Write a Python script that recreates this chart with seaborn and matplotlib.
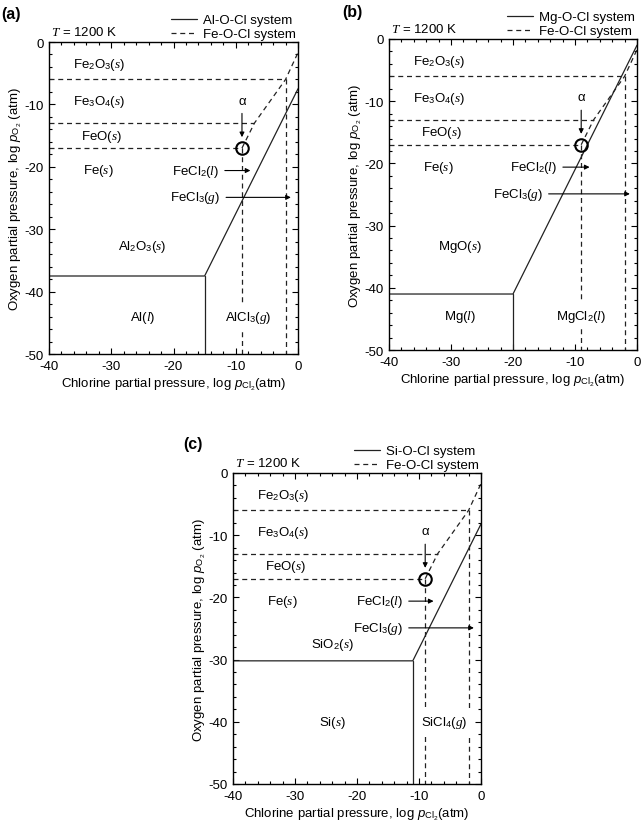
import numpy as np
import pandas as pd
import seaborn as sns
import matplotlib.pyplot as plt
from matplotlib.lines import Line2D
from matplotlib.ticker import MultipleLocator

sns.set_theme(style="ticks", rc={"text.color": "black", "axes.labelcolor": "black",
                                 "xtick.color": "black", "ytick.color": "black",
                                 "axes.edgecolor": "black", "axes.unicode_minus": False})
plt.rcParams['font.family'] = ['Liberation Sans', 'DejaVu Sans']
plt.rcParams['mathtext.fontset'] = 'custom'
plt.rcParams['mathtext.rm'] = 'Liberation Sans'
plt.rcParams['mathtext.it'] = 'Liberation Serif:italic'
plt.rcParams['mathtext.sf'] = 'Liberation Sans:italic'
plt.rcParams['mathtext.bf'] = 'Liberation Sans:bold'

# Fe-O-Cl system (dashed) - same in all three panels
fe_levels = [-6, -13, -17]          # Fe2O3/Fe3O4, Fe3O4/FeO, FeO/Fe
fe_level_ends = [-2, -7, -9]        # log pCl2 where each level meets the chloride boundary
fe_diag_x = [-9, -7, -2, 0]
fe_diag_y = [-17, -13, -6, -1.7]
fe_vert_x = [-9, -2]
fe_vert_top = [-17, -6]
alpha_x, alpha_y = -9, -17

# M-O-Cl systems (solid)
systems = ['Al-O-Cl system', 'Mg-O-Cl system', 'Si-O-Cl system']
metal_level = [-37.5, -41, -30.2]     # oxide / metal boundary
metal_corner_x = [-15, -20, -11]      # metal / chloride boundary
metal_end_y = [-7.5, -1, -8.2]        # oxide / chloride boundary at log pCl2 = 0

fe_names = ['Fe$_2$O$_3$($s$)', 'Fe$_3$O$_4$($s$)', 'FeO($s$)', 'Fe($s$)']
metal_names = [['Al$_2$O$_3$($s$)', 'Al($l$)', 'AlCl$_3$($g$)'],
               ['MgO($s$)', 'Mg($l$)', 'MgCl$_2$($l$)'],
               ['SiO$_2$($s$)', 'Si($s$)', 'SiCl$_4$($g$)']]
tags = ['(a)', '(b)', '(c)']

# label placement
fe_name_pos = [(-32, -3.5), (-32, -9.5), (-31.6, -15), (-32, -20.5)]
metal_name_pos = [[(-25, -32.7), (-25, -44), (-8, -44)],
                  [(-28.5, -33.3), (-28.5, -44.5), (-9, -44.5)],
                  [(-24, -27.5), (-24, -40), (-6, -40)]]
fecl2_right = [-12.7, -12.9, -12.6]
fecl3_right = [-12.5, -15.2, -12.6]

# build boundary segments for each panel
rows = []
for p, sysname in enumerate(systems):
    seg = 0
    for lev, end in zip(fe_levels, fe_level_ends):
        rows += [(p, seg, 'Fe', -40, lev), (p, seg, 'Fe', end, lev)]
        seg += 1
    for xx, yy in zip(fe_diag_x, fe_diag_y):
        rows.append((p, seg, 'Fe', xx, yy))
    seg += 1
    for xx, top in zip(fe_vert_x, fe_vert_top):
        rows += [(p, seg, 'Fe', xx, top), (p, seg, 'Fe', xx, -50)]
        seg += 1
    rows += [(p, seg, 'M', -40, metal_level[p]), (p, seg, 'M', metal_corner_x[p], metal_level[p]),
             (p, seg, 'M', 0, metal_end_y[p])]
    seg += 1
    rows += [(p, seg, 'M', metal_corner_x[p], metal_level[p]), (p, seg, 'M', metal_corner_x[p], -50)]
df = pd.DataFrame(rows, columns=['panel', 'seg', 'system', 'x', 'y'])

fig = plt.figure(figsize=(6.43, 8.29), dpi=100)
ax_pos = [[49 / 643, 1 - 355 / 829, 249 / 643, 312 / 829],
          [389 / 643, 1 - 351 / 829, 248 / 643, 311 / 829],
          [233 / 643, 1 - 785 / 829, 248 / 643, 311 / 829]]
tag_pos = [(1, 15), (342, 12), (183, 445)]

fs = 9.5
dash = (4, 3)
lc = '#222222'
for p in range(3):
    ax = fig.add_axes(ax_pos[p])
    sub = df[df.panel == p]
    sns.lineplot(data=sub, x='x', y='y', units='seg', estimator=None, sort=False,
                 style='system', dashes={'M': '', 'Fe': dash}, color=lc,
                 linewidth=0.9, legend=False, ax=ax)
    ax.plot(alpha_x, alpha_y, 'o', mfc='none', mec='black', ms=9, mew=1.5, zorder=4)

    ax.set_xlim(-40, 0)
    ax.set_ylim(-50, 0)
    ax.set_xticks(np.arange(-40, 1, 10))
    ax.set_yticks(np.arange(-50, 1, 10))
    ax.xaxis.set_minor_locator(MultipleLocator(2))
    ax.yaxis.set_minor_locator(MultipleLocator(2))
    ax.tick_params(which='both', direction='in', top=True, right=True, width=0.8, labelsize=fs)
    ax.tick_params(which='major', length=4, pad=4)
    ax.tick_params(which='minor', length=2)
    for s in ax.spines.values():
        s.set_linewidth(1.0)
    ax.set_xlabel('Chlorine partial pressure, log $\\mathsf{p}_{\\mathrm{Cl}_2}$(atm)', fontsize=fs, labelpad=3)
    ax.set_ylabel('Oxygen partial pressure, log $\\mathsf{p}_{\\mathrm{O}_2}$ (atm)', fontsize=fs, labelpad=0)

    for name, (tx, ty) in zip(fe_names, fe_name_pos):
        ax.text(tx, ty, name, ha='center', va='center', fontsize=fs)
    for name, (tx, ty) in zip(metal_names[p], metal_name_pos[p]):
        ax.text(tx, ty, name, ha='center', va='center', fontsize=fs,
                bbox=dict(fc='white', ec='none', pad=3.5))

    ax.text(alpha_x, -9.4, '\u03b1', ha='center', va='center', fontsize=fs)
    ax.annotate('', xy=(alpha_x, -15.7), xytext=(alpha_x, -11),
                arrowprops=dict(arrowstyle='-|>', lw=0.8, color='black', mutation_scale=7))
    ax.text(fecl2_right[p], -20.6, 'FeCl$_2$($l$)', ha='right', va='center', fontsize=fs)
    ax.annotate('', xy=(-7.2, -20.6), xytext=(fecl2_right[p] + 0.5, -20.6),
                arrowprops=dict(arrowstyle='-|>', lw=0.8, color='black', mutation_scale=7))
    ax.text(fecl3_right[p], -24.9, 'FeCl$_3$($g$)', ha='right', va='center', fontsize=fs)
    ax.annotate('', xy=(-0.7, -24.9), xytext=(fecl3_right[p] + 0.5, -24.9),
                arrowprops=dict(arrowstyle='-|>', lw=0.8, color='black', mutation_scale=7))

    ax.text(0.01, 1.033, '$T$ = 1200 K', transform=ax.transAxes, ha='left', va='center', fontsize=fs)
    handles = [Line2D([], [], color=lc, lw=0.9),
               Line2D([], [], color=lc, lw=0.9, linestyle=(0, dash))]
    ax.legend(handles, [systems[p], 'Fe-O-Cl system'], loc='lower right',
              bbox_to_anchor=(0.99, 1.005), frameon=False, fontsize=fs,
              handlelength=2.0, handletextpad=0.4, labelspacing=0.15, borderpad=0,
              borderaxespad=0)
    fig.text(tag_pos[p][0] / 643, 1 - tag_pos[p][1] / 829, tags[p], ha='left', va='center',
             fontsize=11.5, fontweight='bold')

fig.savefig('out.png', dpi=100)
